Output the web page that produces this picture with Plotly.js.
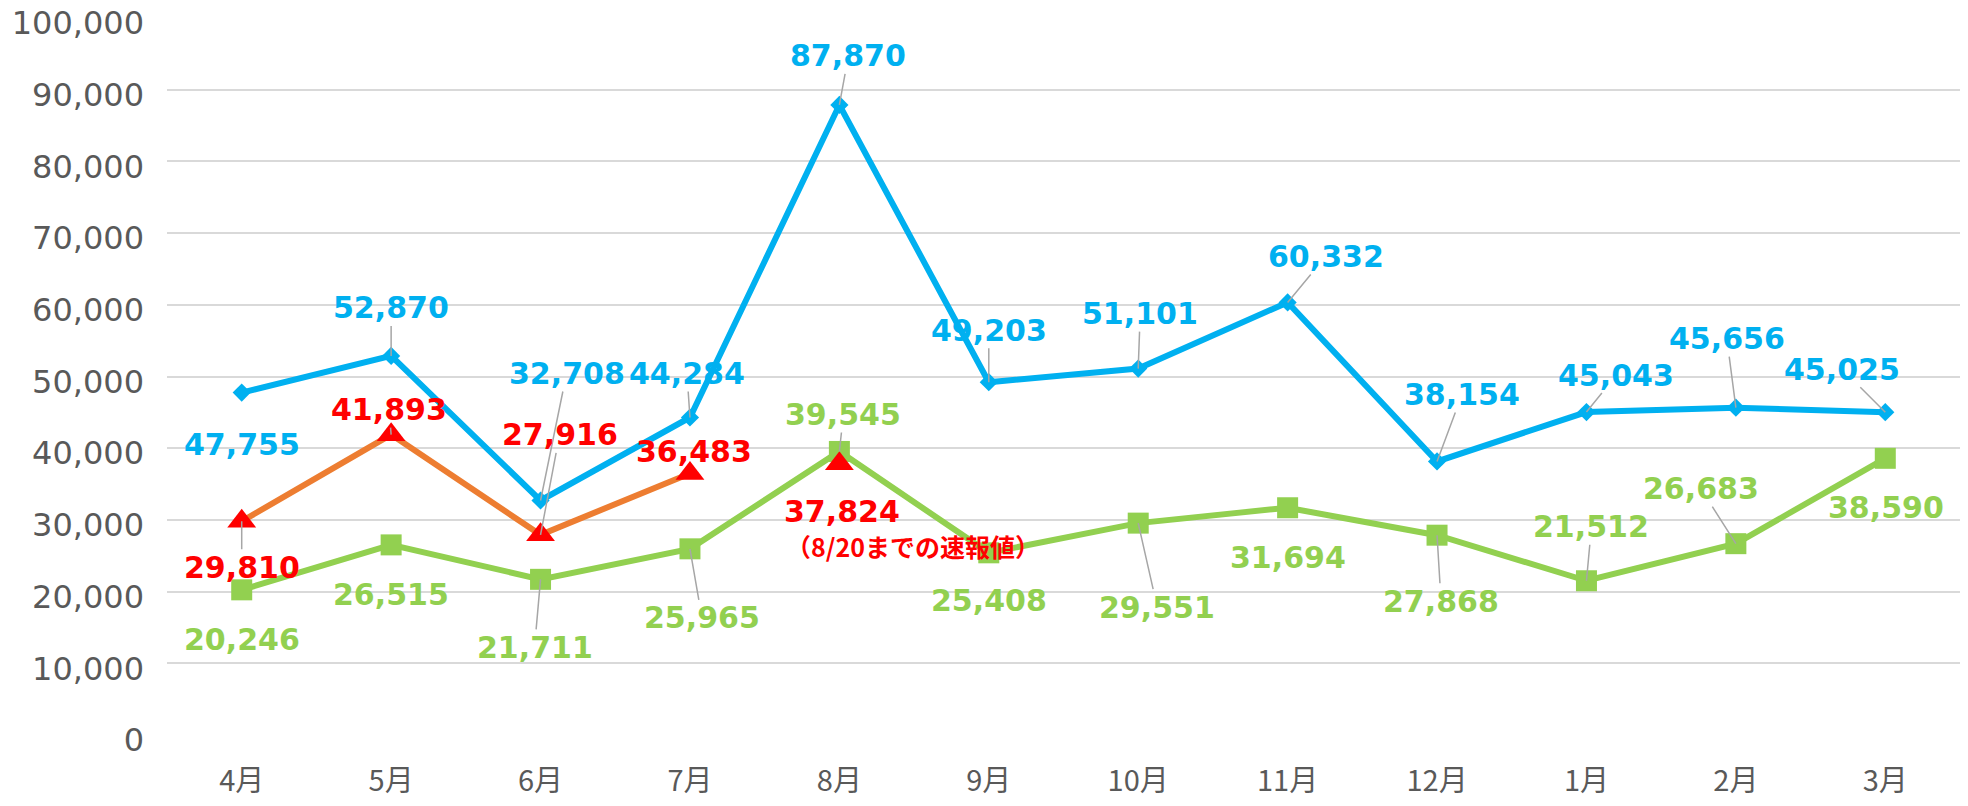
<!DOCTYPE html>
<html>
<head>
<meta charset="utf-8">
<script src="https://cdn.plot.ly/plotly-3.0.1.min.js"></script>
<style>
  html, body { margin: 0; padding: 0; background: #ffffff; }
  #chart { width: 1968px; height: 806px; }
</style>
</head>
<body>
<div id="chart"></div>
<script>
// ---- data ----
const months = ['4月','5月','6月','7月','8月','9月','10月','11月','12月','1月','2月','3月'];
const blueValues = [47755, 52870, 32708, 44284, 87870, 49203, 51101, 60332, 38154, 45043, 45656, 45025];
const greenValues = [20246, 26515, 21711, 25965, 39545, 25408, 29551, 31694, 27868, 21512, 26683, 38590];
const orangeMonths = ['4月','5月','6月','7月'];
const orangeValues = [29810, 41893, 27916, 36483];
const prelimMonth = ['8月'];
const prelimValue = [37824];
const prelimNote = '（8/20までの速報値）';
const yTickValues = [0, 10000, 20000, 30000, 40000, 50000, 60000, 70000, 80000, 90000, 100000];

// ---- label placement (pixel offsets from point, leader line flag) ----
const blueLabelPos = [[0,52,0],[0,-48,1],[26,-127,1],[-3,-44,1],[9,-49,1],[0,-52,1],[2,-55,1],[38,-46,1],[25,-67,1],[30,-37,1],[-9,-69,1],[-43,-43,1]];
const orangeLabelPos = [[0,46,1],[-2,-25,1],[19,-100,1],[4,-22,0]];
const prelimLabelPos = [[3,48,0]];
const greenLabelPos = [[0,50,0],[0,50,0],[-6,68,1],[12,69,1],[4,-37,1],[0,48,0],[19,84,1],[0,50,0],[4,66,1],[5,-54,1],[-35,-55,1],[1,49,0]];

const BLUE = '#00B0F0', GREEN = '#92D050', ORANGE = '#ED7D31', RED = '#FF0000';
const LEADER = '#A6A6A6';
const LABEL_FONT = 'DejaVu Sans, Verdana, sans-serif';
const fmt = v => v.toLocaleString('en-US');

function labels(xs, ys, pos, color) {
  return ys.map((v, i) => ({
    x: xs[i], y: v, xref: 'x', yref: 'y',
    text: fmt(v),
    showarrow: true, arrowhead: 0, arrowwidth: 1.5,
    arrowcolor: pos[i][2] ? LEADER : 'rgba(0,0,0,0)',
    ax: pos[i][0], ay: pos[i][1], axref: 'pixel', ayref: 'pixel',
    standoff: 0, borderpad: 0,
    font: {family: LABEL_FONT, size: 30, color: color, weight: 'bold'}
  }));
}

const traces = [
  {x: months, y: greenValues, type: 'scatter', mode: 'lines+markers', cliponaxis: false,
   line: {color: GREEN, width: 6}, marker: {symbol: 'square', size: 21, color: GREEN}},
  {x: months, y: blueValues, type: 'scatter', mode: 'lines+markers', cliponaxis: false,
   line: {color: BLUE, width: 6}, marker: {symbol: 'diamond', size: 14, color: BLUE}},
  {x: orangeMonths, y: orangeValues, type: 'scatter', mode: 'lines+markers', cliponaxis: false,
   line: {color: ORANGE, width: 6}, marker: {symbol: 'triangle-up', size: 25, color: RED}},
  {x: prelimMonth, y: prelimValue, type: 'scatter', mode: 'markers', cliponaxis: false,
   marker: {symbol: 'triangle-up', size: 25, color: RED}}
];

const annotations = []
  .concat(labels(months, blueValues, blueLabelPos, BLUE))
  .concat(labels(orangeMonths, orangeValues, orangeLabelPos, RED))
  .concat(labels(prelimMonth, prelimValue, prelimLabelPos, RED))
  .concat(labels(months, greenValues, greenLabelPos, GREEN));

annotations.push({
  x: prelimMonth[0], y: prelimValue[0], xref: 'x', yref: 'y',
  text: prelimNote, showarrow: false, xshift: 74, yshift: -82,
  font: {family: 'Noto Sans CJK JP, sans-serif', size: 25, color: RED, weight: 'bold'}
});

const layout = {
  width: 1968, height: 806,
  margin: {l: 167, r: 8, t: 18, b: 71},
  paper_bgcolor: '#ffffff', plot_bgcolor: '#ffffff',
  showlegend: false,
  xaxis: {
    type: 'category', range: [-0.5, 11.5],
    showgrid: false, zeroline: false, showline: false, ticks: '',
    ticklabelstandoff: 26,
    tickfont: {family: 'Noto Sans CJK JP, sans-serif', size: 29, color: '#595959'}
  },
  yaxis: {
    range: [0, 100000], tickvals: yTickValues,
    ticktext: yTickValues.map(fmt),
    showgrid: true, gridcolor: '#D9D9D9', gridwidth: 2,
    zeroline: false, showline: false, ticks: '',
    ticklabelstandoff: 22, ticklabelshift: 5,
    tickfont: {family: 'DejaVu Sans, Verdana, sans-serif', size: 32, color: '#595959'}
  },
  annotations: annotations
};

Plotly.newPlot('chart', traces, layout, {displayModeBar: false, staticPlot: true});
</script>
</body>
</html>
